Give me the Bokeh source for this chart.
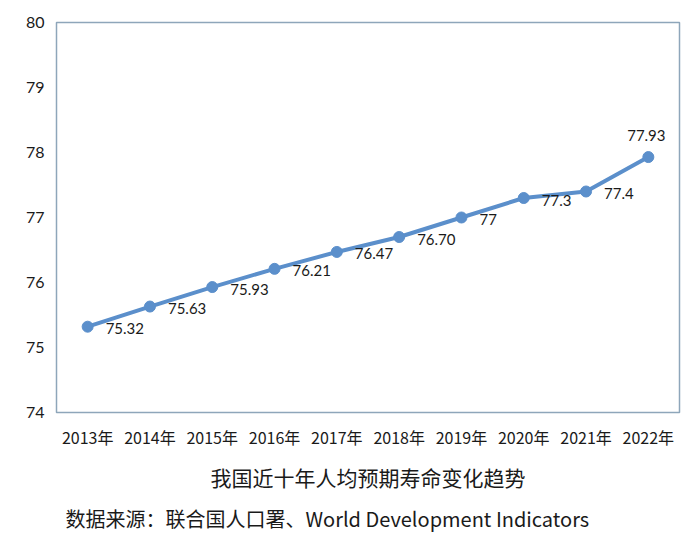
from bokeh.plotting import figure
from bokeh.models import ColumnDataSource, Title, FixedTicker
from bokeh.core.properties import value
from bokeh.embed import file_html
from bokeh.resources import INLINE

years = ["2013年", "2014年", "2015年", "2016年", "2017年", "2018年", "2019年", "2020年", "2021年", "2022年"]
life_exp = [75.32, 75.63, 75.93, 76.21, 76.47, 76.70, 77.0, 77.3, 77.4, 77.93]
label_texts = ["75.32", "75.63", "75.93", "76.21", "76.47", "76.70", "77", "77.3", "77.4", "77.93"]
y_ticks = [74, 75, 76, 77, 78, 79, 80]
chart_title = "我国近十年人均预期寿命变化趋势"
source_note = "数据来源：联合国人口署、World Development Indicators"

line_color = "#5b8fcb"

p = figure(x_range=years, y_range=(74, 80), output_backend="svg", toolbar_location=None,
           frame_width=623, frame_height=390,
           min_border_left=56, min_border_right=13, min_border_top=22, min_border_bottom=0,
           background_fill_color="white", border_fill_color="white")
p.outline_line_color = "#8ea6ba"
p.outline_line_width = 1.5
p.xgrid.grid_line_color = None
p.ygrid.grid_line_color = None

p.yaxis.ticker = FixedTicker(ticks=y_ticks)
for ax in (p.xaxis[0], p.yaxis[0]):
    ax.axis_line_color = None
    ax.major_tick_line_color = None
    ax.minor_tick_line_color = None
    ax.major_label_text_color = "#1a1a1a"
p.yaxis.major_label_text_font = "Lato"
p.yaxis.major_label_text_font_size = "16px"
p.yaxis.major_label_standoff = 6
p.xaxis.major_label_text_font = "Noto Sans CJK SC"
p.xaxis.major_label_text_font_size = "16px"
p.xaxis.major_label_standoff = 6
p.xaxis.axis_label = chart_title
p.xaxis.axis_label_text_font = "Noto Sans CJK SC"
p.xaxis.axis_label_text_font_style = "normal"
p.xaxis.axis_label_text_font_size = "21px"
p.xaxis.axis_label_text_color = "#1a1a1a"
p.xaxis.axis_label_standoff = 10

p.add_layout(Title(text=source_note, align="left", offset=9, text_font="Noto Sans CJK SC",
                   text_font_size="20px", text_font_style="normal", text_color="#1a1a1a",
                   standoff=14), "below")

src = ColumnDataSource(dict(x=years, y=life_exp, t=label_texts))
p.line("x", "y", source=src, line_color=line_color, line_width=4)
p.scatter("x", "y", source=src, size=11, fill_color=line_color, line_color=line_color)

n = len(years)
side = dict(x=years[:n - 1], y=life_exp[:n - 1], t=label_texts[:n - 1])
p.text("x", "y", text="t", source=ColumnDataSource(side), x_offset=18, y_offset=2,
       text_align="left", text_baseline="middle", text_font=value("Lato"),
       text_font_size="15px", text_color="#1a1a1a")
top = dict(x=years[n - 1:], y=life_exp[n - 1:], t=label_texts[n - 1:])
p.text("x", "y", text="t", source=ColumnDataSource(top), x_offset=-2, y_offset=-22,
       text_align="center", text_baseline="middle", text_font=value("Lato"),
       text_font_size="15px", text_color="#1a1a1a")

open("out.html", "w").write(file_html(p, INLINE))
